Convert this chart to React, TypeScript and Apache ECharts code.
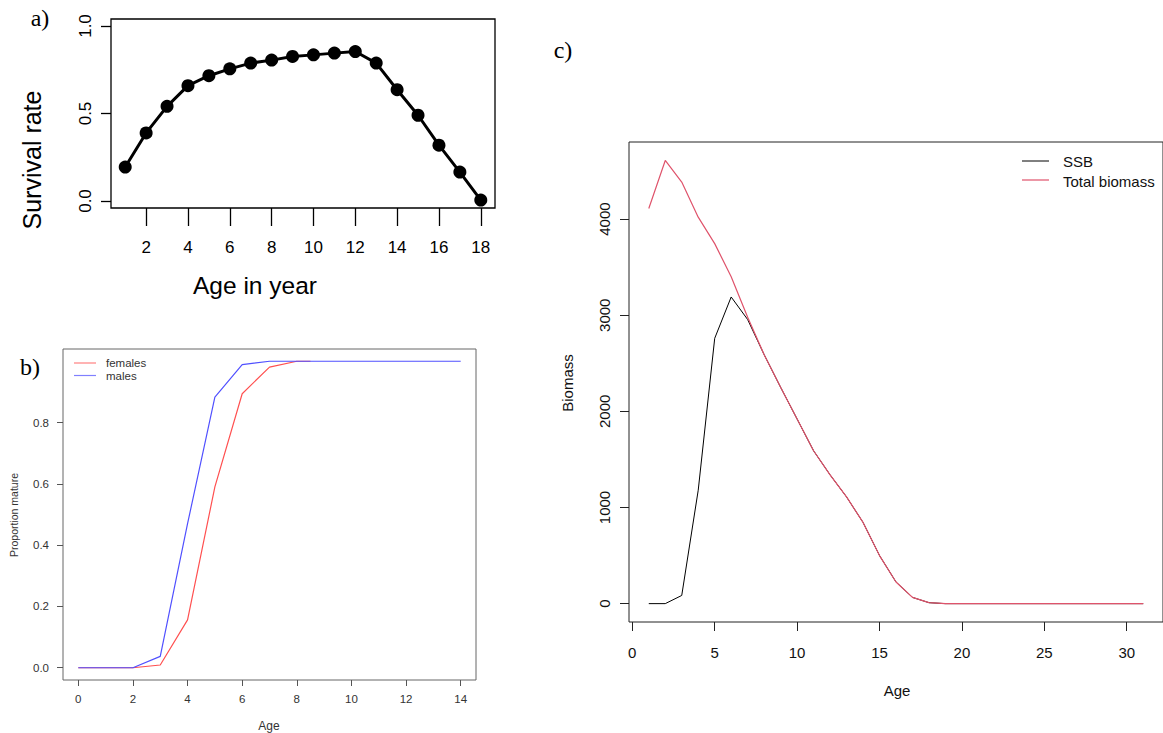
import React, { useEffect, useRef } from "react";
import * as echarts from "echarts";

// ---------- Data ----------
// Panel a: survival rate by age
const agesA = [1, 2, 3, 4, 5, 6, 7, 8, 9, 10, 11, 12, 13, 14, 15, 16, 17, 18];
const survival = [0.194, 0.389, 0.541, 0.659, 0.716, 0.755, 0.788, 0.805, 0.826, 0.835, 0.845, 0.854, 0.788, 0.636, 0.49, 0.319, 0.165, 0.005];
const ticksAX = [2, 4, 6, 8, 10, 12, 14, 16, 18];
const ticksAY = [0, 0.5, 1];

// Panel b: proportion mature
const agesFemales = [0, 1, 2, 3, 4, 5, 6, 7, 8, 8.5];
const females = [0, 0, 0, 0.009, 0.156, 0.59, 0.894, 0.981, 1.0, 1.0];
const agesMales = [0, 1, 2, 3, 4, 5, 6, 7, 8, 9, 10, 11, 12, 13, 14];
const males = [0, 0, 0, 0.037, 0.47, 0.883, 0.989, 1, 1, 1, 1, 1, 1, 1, 1];
const ticksBX = [0, 2, 4, 6, 8, 10, 12, 14];
const ticksBY = [0, 0.2, 0.4, 0.6, 0.8];

// Panel c: biomass by age
const agesC = [1, 2, 3, 4, 5, 6, 7, 8, 9, 10, 11, 12, 13, 14, 15, 16, 17, 18, 19, 20, 21, 22, 23, 24, 25, 26, 27, 28, 29, 30, 31];
const ssb = [0, 0, 85, 1180, 2760, 3190, 2955, 2590, 2250, 1920, 1590, 1340, 1110, 845, 500, 225, 65, 10, 0, 0, 0, 0, 0, 0, 0, 0, 0, 0, 0, 0, 0];
const totalBiomass = [4110, 4610, 4385, 4020, 3745, 3400, 2980, 2590, 2250, 1920, 1590, 1340, 1110, 845, 500, 225, 65, 10, 0, 0, 0, 0, 0, 0, 0, 0, 0, 0, 0, 0, 0];
const ticksCX = [0, 5, 10, 15, 20, 25, 30];
const ticksCY = [0, 1000, 2000, 3000, 4000];

const SANS = "'Liberation Sans', Arial, sans-serif";
const SERIF = "'Liberation Serif', 'DejaVu Serif', serif";

const pairs = (xs: number[], ys: number[]) => xs.map((x, i) => [x, ys[i]]);

export default function App() {
  const ref = useRef<HTMLDivElement>(null);

  useEffect(() => {
    if (!ref.current) return;
    const chart = echarts.init(ref.current, null, { renderer: "svg" });

    const noLine = { show: false, onZero: false };

    const option: any = {
      animation: false,
      backgroundColor: "#ffffff",
      grid: [
        { left: 111, top: 19, width: 384, height: 189, show: true, borderColor: "#000", borderWidth: 1.3, backgroundColor: "transparent" },
        { left: 63, top: 349, width: 413, height: 331, show: true, borderColor: "#666", borderWidth: 1, backgroundColor: "transparent" },
        { left: 629, top: 142, width: 540, height: 480, show: true, borderColor: "#222", borderWidth: 1, backgroundColor: "transparent" },
      ],
      xAxis: [
        {
          gridIndex: 0, type: "value", min: 0.32, max: 18.68, position: "bottom",
          axisLine: noLine, splitLine: { show: false },
          axisTick: { show: true, inside: false, length: 18, customValues: ticksAX, lineStyle: { color: "#000", width: 1.3 } },
          axisLabel: { customValues: ticksAX, margin: 31, color: "#000", fontSize: 17, fontFamily: SANS },
        },
        {
          gridIndex: 1, type: "value", min: -0.56, max: 14.56, position: "bottom",
          axisLine: noLine, splitLine: { show: false },
          axisTick: { show: true, inside: false, length: 6, customValues: ticksBX, lineStyle: { color: "#555", width: 1 } },
          axisLabel: { customValues: ticksBX, margin: 13, color: "#333", fontSize: 11.5, fontFamily: SANS },
        },
        {
          gridIndex: 2, type: "value", min: -0.2, max: 32.2, position: "bottom",
          axisLine: noLine, splitLine: { show: false },
          axisTick: { show: true, inside: false, length: 9, customValues: ticksCX, lineStyle: { color: "#222", width: 1 } },
          axisLabel: { customValues: ticksCX, margin: 23, color: "#111", fontSize: 15, fontFamily: SANS },
        },
      ],
      yAxis: [
        {
          gridIndex: 0, type: "value", min: -0.04, max: 1.04, position: "left",
          axisLine: noLine, splitLine: { show: false },
          axisTick: { show: true, inside: false, length: 10, customValues: ticksAY, lineStyle: { color: "#000", width: 1.3 } },
          axisLabel: { customValues: ticksAY, rotate: 90, margin: 17, color: "#000", fontSize: 17, fontFamily: SANS, formatter: (v: number) => v.toFixed(1) },
        },
        {
          gridIndex: 1, type: "value", min: -0.04, max: 1.04, position: "left",
          axisLine: noLine, splitLine: { show: false },
          axisTick: { show: true, inside: false, length: 6, customValues: ticksBY, lineStyle: { color: "#555", width: 1 } },
          axisLabel: { customValues: ticksBY, margin: 14, color: "#333", fontSize: 11.5, fontFamily: SANS, formatter: (v: number) => v.toFixed(1) },
        },
        {
          gridIndex: 2, type: "value", min: -191, max: 4802, position: "left",
          axisLine: noLine, splitLine: { show: false },
          axisTick: { show: true, inside: false, length: 9, customValues: ticksCY, lineStyle: { color: "#222", width: 1 } },
          axisLabel: { customValues: ticksCY, rotate: 90, margin: 17, color: "#111", fontSize: 15, fontFamily: SANS, formatter: (v: number) => String(v) },
        },
      ],
      series: [
        {
          name: "Survival rate", type: "line", xAxisIndex: 0, yAxisIndex: 0,
          data: pairs(agesA, survival),
          symbol: "circle", symbolSize: 13, showSymbol: true,
          lineStyle: { color: "#000", width: 3 }, itemStyle: { color: "#000" },
        },
        {
          name: "females", type: "line", xAxisIndex: 1, yAxisIndex: 1,
          data: pairs(agesFemales, females), showSymbol: false, symbol: "none",
          lineStyle: { color: "#ff5050", width: 1.2 },
        },
        {
          name: "males", type: "line", xAxisIndex: 1, yAxisIndex: 1,
          data: pairs(agesMales, males), showSymbol: false, symbol: "none",
          lineStyle: { color: "#5050ff", width: 1.2 },
        },
        {
          name: "SSB", type: "line", xAxisIndex: 2, yAxisIndex: 2,
          data: pairs(agesC, ssb), showSymbol: false, symbol: "none",
          lineStyle: { color: "#000", width: 1 },
        },
        {
          name: "Total biomass", type: "line", xAxisIndex: 2, yAxisIndex: 2,
          data: pairs(agesC, totalBiomass), showSymbol: false, symbol: "none",
          lineStyle: { color: "#DF536B", width: 1.2 },
        },
      ],
      graphic: [
        // panel letters
        { type: "text", x: 40, y: 18, style: { text: "a)", font: `24px ${SERIF}`, fill: "#000", textAlign: "center", textVerticalAlign: "middle" } },
        { type: "text", x: 30, y: 367, style: { text: "b)", font: `24px ${SERIF}`, fill: "#000", textAlign: "center", textVerticalAlign: "middle" } },
        { type: "text", x: 563, y: 50, style: { text: "c)", font: `24px ${SERIF}`, fill: "#000", textAlign: "center", textVerticalAlign: "middle" } },
        // panel a titles
        { type: "text", x: 32, y: 160, rotation: Math.PI / 2, style: { text: "Survival rate", font: `25px ${SANS}`, fill: "#000", textAlign: "center", textVerticalAlign: "middle" } },
        { type: "text", x: 255, y: 285, style: { text: "Age in year", font: `24.5px ${SANS}`, fill: "#000", textAlign: "center", textVerticalAlign: "middle" } },
        // panel b titles
        { type: "text", x: 14, y: 515, rotation: Math.PI / 2, style: { text: "Proportion mature", font: `10.5px ${SANS}`, fill: "#333", textAlign: "center", textVerticalAlign: "middle" } },
        { type: "text", x: 269, y: 726, style: { text: "Age", font: `12px ${SANS}`, fill: "#333", textAlign: "center", textVerticalAlign: "middle" } },
        // panel b legend
        { type: "line", shape: { x1: 74, y1: 363, x2: 96, y2: 363 }, style: { stroke: "#ff8080", lineWidth: 1.2 } },
        { type: "line", shape: { x1: 74, y1: 375.5, x2: 96, y2: 375.5 }, style: { stroke: "#8080ff", lineWidth: 1.2 } },
        { type: "text", x: 106, y: 363, style: { text: "females", font: `11.5px ${SANS}`, fill: "#333", textAlign: "left", textVerticalAlign: "middle" } },
        { type: "text", x: 106, y: 376, style: { text: "males", font: `11.5px ${SANS}`, fill: "#333", textAlign: "left", textVerticalAlign: "middle" } },
        // panel c titles
        { type: "text", x: 567, y: 383, rotation: Math.PI / 2, style: { text: "Biomass", font: `15px ${SANS}`, fill: "#111", textAlign: "center", textVerticalAlign: "middle" } },
        { type: "text", x: 897, y: 690, style: { text: "Age", font: `15px ${SANS}`, fill: "#111", textAlign: "center", textVerticalAlign: "middle" } },
        // panel c legend
        { type: "line", shape: { x1: 1022, y1: 161, x2: 1049, y2: 161 }, style: { stroke: "#000", lineWidth: 1 } },
        { type: "line", shape: { x1: 1022, y1: 180, x2: 1049, y2: 180 }, style: { stroke: "#DF536B", lineWidth: 1.2 } },
        { type: "text", x: 1063, y: 161, style: { text: "SSB", font: `15px ${SANS}`, fill: "#111", textAlign: "left", textVerticalAlign: "middle" } },
        { type: "text", x: 1063, y: 181, style: { text: "Total biomass", font: `15px ${SANS}`, fill: "#111", textAlign: "left", textVerticalAlign: "middle" } },
      ],
    };

    chart.setOption(option);
    return () => chart.dispose();
  }, []);

  return (
    <div
      ref={ref}
      style={{ position: "absolute", left: 0, top: 0, width: 1163, height: 733, background: "#fff" }}
    />
  );
}
